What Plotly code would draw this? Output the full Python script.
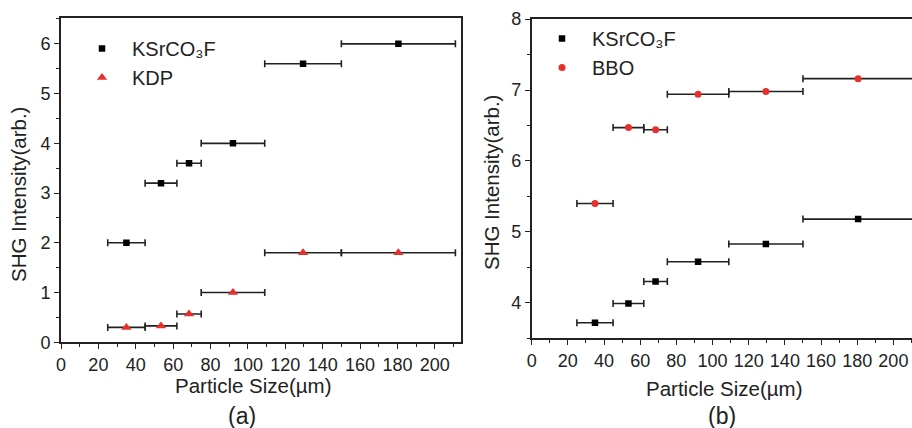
import plotly.graph_objects as go

W, H = 912, 428

# ---- data ----
sizes = [35, 53.5, 68.5, 92, 129.5, 180.5]
size_err = [10, 8.5, 6.5, 17, 20.5, 30.5]

a_ksr = [2.0, 3.2, 3.6, 4.0, 5.6, 6.0]
a_kdp = [0.3, 0.33, 0.57, 1.0, 1.8, 1.8]

b_ksr = [3.72, 3.99, 4.30, 4.58, 4.83, 5.18]
b_bbo = [5.40, 6.47, 6.44, 6.94, 6.98, 7.16]

x_ticks = [0, 20, 40, 60, 80, 100, 120, 140, 160, 180, 200]

INK = "#222222"
RED = "#e5302c"
FONT = "Liberation Sans, Arial, sans-serif"

def px(x):
    return x / W

def py(y):
    return (H - y) / H

err = dict(type="data", array=size_err, visible=True, color=INK, thickness=1.6, width=3.5)

fig = go.Figure()
fig.add_trace(go.Scatter(x=sizes, y=a_ksr, mode="markers", name="KSrCO₃F",
                         marker=dict(symbol="square", size=6.5, color="black"),
                         error_x=err, xaxis="x", yaxis="y", legend="legend"))
fig.add_trace(go.Scatter(x=sizes, y=a_kdp, mode="markers", name="KDP",
                         marker=dict(symbol="triangle-up", size=9, color=RED),
                         error_x=err, xaxis="x", yaxis="y", legend="legend"))
fig.add_trace(go.Scatter(x=sizes, y=b_ksr, mode="markers", name="KSrCO₃F",
                         marker=dict(symbol="square", size=6.5, color="black"),
                         error_x=err, xaxis="x2", yaxis="y2", legend="legend2"))
fig.add_trace(go.Scatter(x=sizes, y=b_bbo, mode="markers", name="BBO",
                         marker=dict(symbol="circle", size=7, color=RED),
                         error_x=err, xaxis="x2", yaxis="y2", legend="legend2"))

tickfont = dict(family=FONT, size=18, color=INK)

def xax(domain, rng, mirror, anchor):
    return dict(domain=domain, range=rng, anchor=anchor, showline=True, linecolor=INK, linewidth=1.6,
                mirror=mirror, ticks="outside", ticklen=5, tickwidth=1.4, tickcolor=INK,
                tickvals=x_ticks, tickfont=tickfont, showgrid=False, zeroline=False,
                automargin=False,
                minor=dict(dtick=10, tick0=0, ticks="outside", ticklen=3, tickwidth=1.2, tickcolor=INK))

def yax(domain, rng, mirror, anchor, dtick):
    return dict(domain=domain, range=rng, anchor=anchor, showline=True, linecolor=INK, linewidth=1.6,
                mirror=mirror, ticks="outside", ticklen=5, tickwidth=1.4, tickcolor=INK,
                dtick=dtick, tick0=0, tickfont=tickfont, showgrid=False, zeroline=False,
                automargin=False,
                minor=dict(dtick=0.5, tick0=0, ticks="outside", ticklen=3, tickwidth=1.2, tickcolor=INK))

legfont = dict(family=FONT, size=20, color=INK)

fig.update_layout(
    width=W, height=H,
    margin=dict(l=0, r=0, t=0, b=0, autoexpand=False),
    paper_bgcolor="white", plot_bgcolor="white",
    xaxis=xax([px(61), px(461)], [0, 214], True, "y"),
    yaxis=yax([py(342.3), py(17.5)], [0, 6.53], True, "x", 1),
    xaxis2=xax([px(531.7), 1.0], [0, 210.3], True, "y2"),
    yaxis2=yax([py(338.3), py(19)], [3.5, 8.001], False, "x2", 1),
    legend=dict(x=px(72), y=py(29), xanchor="left", yanchor="top", font=legfont,
                bgcolor="rgba(0,0,0,0)", itemwidth=50, tracegroupgap=0),
    legend2=dict(x=px(532), y=py(19), xanchor="left", yanchor="top", font=legfont,
                 bgcolor="rgba(0,0,0,0)", itemwidth=50, tracegroupgap=0),
)

annot_font = dict(family=FONT, size=20.5, color=INK)
annots = [
    dict(text="SHG Intensity(arb.)", x=px(18), y=py(195), textangle=-90),
    dict(text="SHG Intensity(arb.)", x=px(491), y=py(183), textangle=-90),
    dict(text="Particle Size(µm)", x=px(252.5), y=py(385)),
    dict(text="Particle Size(µm)", x=px(724), y=py(388)),
    dict(text="(a)", x=px(242), y=py(416), font=dict(family=FONT, size=23, color=INK)),
    dict(text="(b)", x=px(722), y=py(416), font=dict(family=FONT, size=23, color=INK)),
]
for a in annots:
    a.setdefault("font", annot_font)
    fig.add_annotation(xref="paper", yref="paper", xanchor="center", yanchor="middle",
                       showarrow=False, **a)

fig.write_html("out.html", config={"displayModeBar": False},
               post_script="document.body.style.margin='0px';document.body.style.overflow='hidden';")
